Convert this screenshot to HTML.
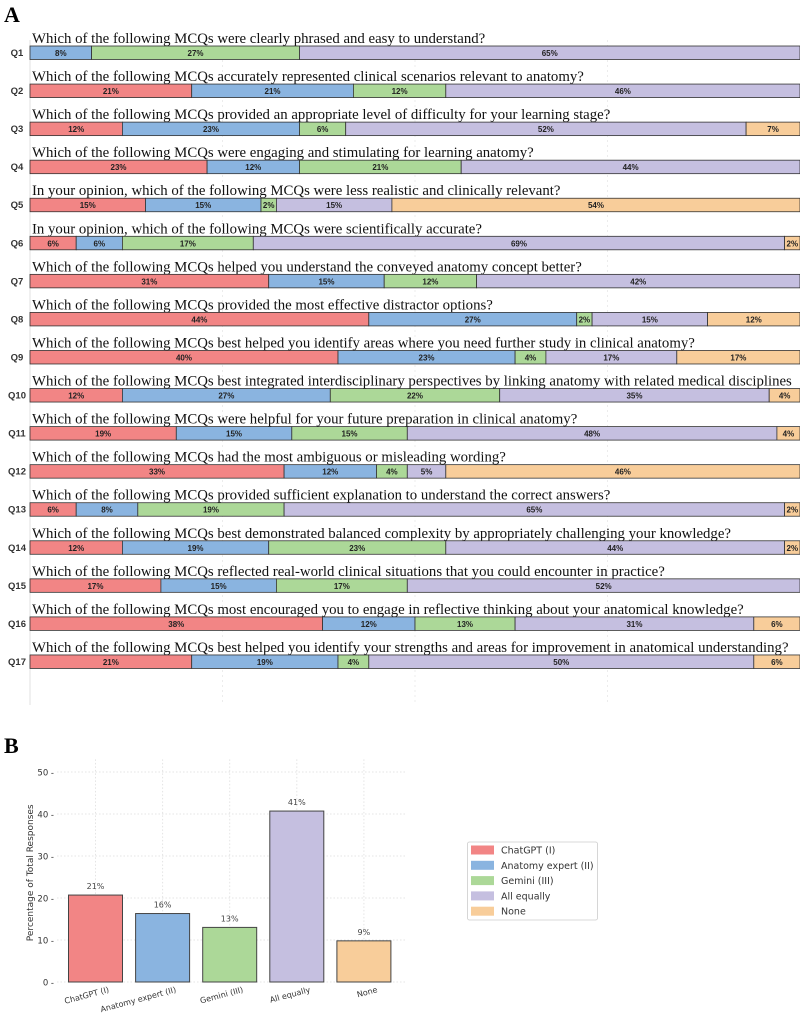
<!DOCTYPE html>
<html><head><meta charset="utf-8">
<style>
html,body{margin:0;padding:0;background:#fff;}
svg{display:block;}
</style></head>
<body>
<svg id="fig" width="800" height="1015" viewBox="0 0 800 1015" xmlns="http://www.w3.org/2000/svg">
<text x="4" y="22" font-family="Liberation Serif, serif" font-weight="bold" font-size="22" fill="#000">A</text>
<text x="4" y="753" font-family="Liberation Serif, serif" font-weight="bold" font-size="22" fill="#000">B</text>
<g id="panelA"></g>
<g id="panelB"></g>
</svg>
<script>
// ---------- Panel A data ----------
const qLabels = ["Q1","Q2","Q3","Q4","Q5","Q6","Q7","Q8","Q9","Q10","Q11","Q12","Q13","Q14","Q15","Q16","Q17"];
const questions = [
"Which of the following MCQs were clearly phrased and easy to understand?",
"Which of the following MCQs accurately represented clinical scenarios relevant to anatomy?",
"Which of the following MCQs provided an appropriate level of difficulty for your learning stage?",
"Which of the following MCQs were engaging and stimulating for learning anatomy?",
"In your opinion, which of the following MCQs were less realistic and clinically relevant?",
"In your opinion, which of the following MCQs were scientifically accurate?",
"Which of the following MCQs helped you understand the conveyed anatomy concept better?",
"Which of the following MCQs provided the most effective distractor options?",
"Which of the following MCQs best helped you identify areas where you need further study in clinical anatomy?",
"Which of the following MCQs best integrated interdisciplinary perspectives by linking anatomy with related medical disciplines",
"Which of the following MCQs were helpful for your future preparation in clinical anatomy?",
"Which of the following MCQs had the most ambiguous or misleading wording?",
"Which of the following MCQs provided sufficient explanation to understand the correct answers?",
"Which of the following MCQs best demonstrated balanced complexity by appropriately challenging your knowledge?",
"Which of the following MCQs reflected real-world clinical situations that you could encounter in practice?",
"Which of the following MCQs most encouraged you to engage in reflective thinking about your anatomical knowledge?",
"Which of the following MCQs best helped you identify your strengths and areas for improvement in anatomical understanding?"];
const chatgptVals = [0,21,12,23,15,6,31,44,40,12,19,33,6,12,17,38,21];
const expertVals  = [8,21,23,12,15,6,15,27,23,27,15,12,8,19,15,12,19];
const geminiVals  = [27,12,6,21,2,17,12,2,4,22,15,4,19,23,17,13,4];
const equalVals   = [65,46,52,44,15,69,42,15,17,35,48,5,65,44,52,31,50];
const noneVals    = [0,0,7,0,54,2,0,12,17,4,4,46,2,2,0,6,6];

// ---------- Panel B data ----------
const bCategories = ["ChatGPT (I)","Anatomy expert (II)","Gemini (III)","All equally","None"];
const bValues = [20.7,16.3,13.0,40.7,9.8];
const bLabels = ["21%","16%","13%","41%","9%"];
const bTicks = [0,10,20,30,40,50];

const colors = ["#f28585","#8ab4e0","#acd898","#c5bfe0","#f8cd9a"];
const seriesNames = ["chatgpt","expert","gemini","all-equally","none"];
const NS = "http://www.w3.org/2000/svg";
function mk(tag, attrs, parent){
  const e = document.createElementNS(NS, tag);
  for (const k in attrs) e.setAttribute(k, attrs[k]);
  parent.appendChild(e);
  return e;
}

// ---------- Panel A ----------
const A = document.getElementById('panelA');
const ax0 = 30, axMax = 800, pxPerPct = 7.7;
const xA = v => ax0 + v * pxPerPct;
const rowY = i => 46 + i * 38.06;
[25,50,75].forEach(p=>{
  const g = mk('line',{x1:xA(p),x2:xA(p),y1:40,y2:705,stroke:"#ececec","stroke-width":1,"stroke-dasharray":"2,3"},A);
  
  
});
const axl = mk('line',{x1:30,x2:30,y1:40,y2:705,stroke:"#e0e0e0","stroke-width":1},A);


const series = [chatgptVals, expertVals, geminiVals, equalVals, noneVals];
for (let i=0;i<qLabels.length;i++){
  const y = rowY(i);
  const t = mk('text',{x:32,y:y-3,"font-family":"Liberation Serif, serif","font-size":"14.8",fill:"#111"},A);
  t.textContent = questions[i];
  
  
  const ql = mk('text',{x:17,y:y+10,"font-family":"Liberation Sans, sans-serif","font-size":"9.5","font-weight":"bold",fill:"#333","text-anchor":"middle"},A);
  ql.textContent = qLabels[i];
  
  
  let acc = 0;
  for (let s=0;s<5;s++){
    const v = series[s][i];
    if (!v) continue;
    const x1 = xA(acc), x2 = Math.min(xA(acc+v), axMax);
    acc += v;
    if (x2 <= x1) continue;
    const r = mk('rect',{x:x1,y:y,width:x2-x1,height:13.5,fill:colors[s],stroke:"#333","stroke-width":0.8},A);
    
    
    const lt = mk('text',{x:(x1+x2)/2,y:y+10,"font-family":"Liberation Sans, sans-serif","font-size":"8","font-weight":"bold",fill:"#222","text-anchor":"middle"},A);
    lt.textContent = v + "%";
    
    
  }
}

// ---------- Panel B ----------
const B = document.getElementById('panelB');
const y0 = 982, pxPerUnit = 4.2;
const yB = v => y0 - v * pxPerUnit;
const xB = i => 95.5 + i * 67.1;
const bw = 54;
bTicks.forEach(t=>{
  const gl = mk('line',{x1:57,x2:406,y1:yB(t),y2:yB(t),stroke:"#e4e4e4","stroke-width":1,"stroke-dasharray":"1.5,2"},B);
  
  
  const tk = mk('text',{x:54,y:yB(t)+3.5,"font-family":"DejaVu Sans, sans-serif","font-size":"8.5",fill:"#333","text-anchor":"end"},B);
  tk.textContent = t + " -";
  
  
});
bCategories.forEach((c,i)=>{
  const vg = mk('line',{x1:xB(i),x2:xB(i),y1:yB(53),y2:y0,stroke:"#e4e4e4","stroke-width":1,"stroke-dasharray":"1.5,2"},B);
  
  
});
const yt = mk('text',{x:0,y:0,"font-family":"DejaVu Sans, sans-serif","font-size":"9",fill:"#333","text-anchor":"middle",transform:"translate(33,"+yB(26)+") rotate(-90)"},B);
yt.textContent = "Percentage of Total Responses";


bCategories.forEach((c,i)=>{
  const r = mk('rect',{x:xB(i)-bw/2,y:yB(bValues[i]),width:bw,height:bValues[i]*pxPerUnit,fill:colors[i],stroke:"#444","stroke-width":1},B);
  
  
  const vl = mk('text',{x:xB(i),y:yB(bValues[i])-6,"font-family":"DejaVu Sans, sans-serif","font-size":"8",fill:"#444","text-anchor":"middle"},B);
  vl.textContent = bLabels[i];
  
  
  const xl = mk('text',{x:0,y:0,"font-family":"DejaVu Sans, sans-serif","font-size":"8",fill:"#333","text-anchor":"end",transform:"translate("+(xB(i)+14)+","+(y0+10)+") rotate(-15)"},B);
  xl.textContent = c;
  
  
});
const lg = mk('g',{},B);


mk('rect',{x:467.5,y:842,width:130,height:78,fill:"#fff",stroke:"#ccc","stroke-width":0.8,rx:2},lg);
bCategories.forEach((c,i)=>{
  const yy = 850 + i*15.3;
  const p = mk('rect',{x:471,y:yy-4.5,width:23,height:9,fill:colors[i]},lg);
  
  
  const lt = mk('text',{x:501,y:yy+3.5,"font-family":"DejaVu Sans, sans-serif","font-size":"9.5",fill:"#333"},lg);
  lt.textContent = c;
  
  
});
</script>
</body></html>
